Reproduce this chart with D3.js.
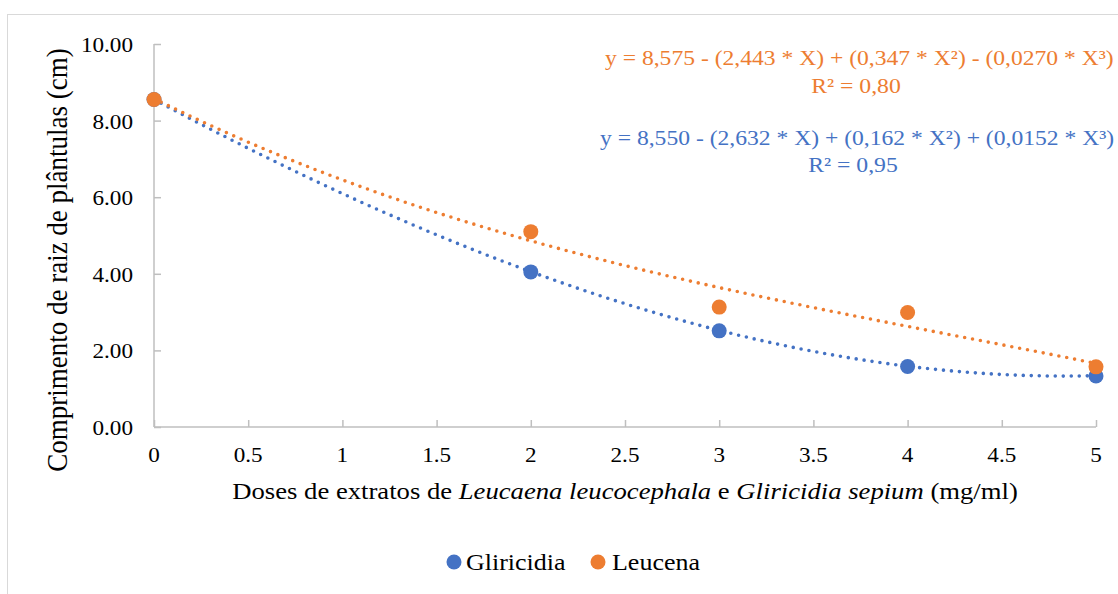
<!DOCTYPE html>
<html>
<head>
<meta charset="utf-8">
<script src="https://cdn.jsdelivr.net/npm/d3@7"></script>
<style>
  html, body { margin: 0; padding: 0; background: #fff; }
  svg { display: block; }
  text { font-family: "Liberation Serif", "Times New Roman", serif; fill: #000; }
</style>
</head>
<body>
<svg id="chart" width="1118" height="594"></svg>
<script>
// Doses (mg/ml) and mean root length (cm) per extract
const doses = [0, 2, 3, 4, 5];
const gliricidia = [8.55, 4.05, 2.51, 1.58, 1.33];
const leucena = [8.55, 5.10, 3.13, 2.99, 1.57];

// Cubic trend coefficients: a + bX + cX² + dX³
const gliricidiaCoef = [8.550, -2.632, 0.162, 0.0152];
const leucenaCoef = [8.575, -2.443, 0.347, -0.0270];
const gliricidiaR2 = "0,95";
const leucenaR2 = "0,80";

const xTicks = [0, 0.5, 1, 1.5, 2, 2.5, 3, 3.5, 4, 4.5, 5];
const yTicks = [0, 2, 4, 6, 8, 10];
const seriesNames = ["Gliricidia", "Leucena"];
const colors = { Gliricidia: "#4472C4", Leucena: "#ED7D31" };

const svg = d3.select("#chart");
const SX = 1.13; // horizontal text stretch

// chart frame
svg.append("rect")
  .attr("x", 7.5).attr("y", 14.5)
  .attr("width", 1200).attr("height", 700)
  .attr("fill", "none").attr("stroke", "#d9d9d9").attr("stroke-width", 1);

const x = d3.scaleLinear().domain([0, 5]).range([154, 1096]);
const y = d3.scaleLinear().domain([0, 10]).range([427, 44]);

function label(g, px, py, str, size, anchor, rotate) {
  const t = g.append("text")
    .attr("transform", `translate(${px},${py}) scale(${SX},1)` + (rotate ? " rotate(-90)" : ""))
    .attr("text-anchor", anchor)
    .style("font-size", size + "px");
  if (typeof str === "string") t.text(str);
  return t;
}

// axes
const axisColor = "#bfbfbf";
const yAxis = d3.axisRight(y).tickValues(yTicks).tickSize(7).tickFormat("");
const gy = svg.append("g").attr("transform", `translate(${x(0)},0)`).call(yAxis);
const xAxis = d3.axisTop(x).tickValues(xTicks).tickSize(7).tickFormat("");
const gx = svg.append("g").attr("transform", `translate(0,${y(0)})`).call(xAxis);
[gx, gy].forEach(g => {
  g.selectAll("path.domain").attr("stroke", axisColor).attr("stroke-width", 1.5);
  g.selectAll(".tick line").attr("stroke", axisColor).attr("stroke-width", 1.5);
});
gy.select("path.domain").attr("d", `M0,${y(10)}V${y(0)}`);
gx.select("path.domain").attr("d", `M${x(0)},0H${x(5)}`);

// tick labels
const tl = svg.append("g");
yTicks.forEach(v => label(tl, 133, y(v) + 8, v.toFixed(2), 20.5, "end"));
xTicks.forEach(v => label(tl, x(v), 462, String(v), 20.5, "middle"));

// axis titles
label(svg, 67, 260, "Comprimento de raiz de plântulas (cm)", 27, "middle", true);
const xt = label(svg, 625, 499, null, 23.6, "middle");
[["Doses de extratos de ", false], ["Leucaena leucocephala", true], [" e ", false],
 ["Gliricidia sepium", true], [" (mg/ml)", false]].forEach(([s, it]) => {
  xt.append("tspan").text(s).style("font-style", it ? "italic" : "normal");
});

// polynomial trend lines
const poly = c => v => c[0] + c[1] * v + c[2] * v * v + c[3] * v * v * v;
const line = d3.line().x(d => x(d[0])).y(d => y(d[1]));
const samples = d3.range(0, 5.0001, 0.02);
[["Gliricidia", gliricidiaCoef], ["Leucena", leucenaCoef]].forEach(([name, coef]) => {
  const f = poly(coef);
  svg.append("path")
    .attr("d", line(samples.map(v => [v, f(v)])))
    .attr("fill", "none")
    .attr("stroke", colors[name])
    .attr("stroke-width", 3.6)
    .attr("stroke-linecap", "round")
    .attr("stroke-dasharray", "0 8");
});

// data markers
[["Gliricidia", gliricidia], ["Leucena", leucena]].forEach(([name, vals]) => {
  svg.append("g").selectAll("circle")
    .data(doses.map((d, i) => [d, vals[i]]))
    .join("circle")
    .attr("cx", d => x(d[0]))
    .attr("cy", d => y(d[1]))
    .attr("r", 7.5)
    .attr("fill", colors[name]);
});

// equations
const fmt = (v, dec) => Math.abs(v).toFixed(dec).replace(".", ",");
function eqText(c) {
  const s = v => (v < 0 ? " - " : " + ");
  return `y = ${fmt(c[0], 3)}${s(c[1])}(${fmt(c[1], 3)} * X)${s(c[2])}(${fmt(c[2], 3)} * X²)${s(c[3])}(${fmt(c[3], 4)} * X³)`;
}
label(svg, 605, 65, eqText(leucenaCoef), 20.9, "start").style("fill", colors.Leucena);
label(svg, 856, 93, `R² = ${leucenaR2}`, 21, "middle").style("fill", colors.Leucena);
label(svg, 600, 145, eqText(gliricidiaCoef), 20.9, "start").style("fill", colors.Gliricidia);
label(svg, 853, 172, `R² = ${gliricidiaR2}`, 21, "middle").style("fill", colors.Gliricidia);

// legend
const legendPos = [{ cx: 454, tx: 466 }, { cx: 598, tx: 612 }];
seriesNames.forEach((name, i) => {
  svg.append("circle").attr("cx", legendPos[i].cx).attr("cy", 562).attr("r", 7.5)
    .attr("fill", colors[name]);
  label(svg, legendPos[i].tx, 570, name, 23, "start");
});
</script>
</body>
</html>
